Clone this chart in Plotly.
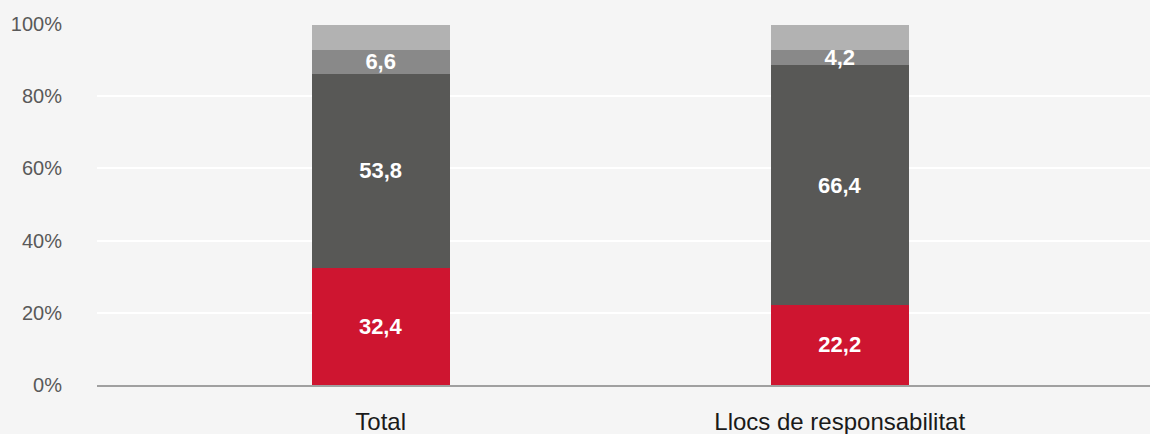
import plotly.graph_objects as go

categories = ["Total", "Llocs de responsabilitat"]

red_vals = [32.4, 22.2]
dark_vals = [53.8, 66.4]
mid_vals = [6.6, 4.2]
light_vals = [6.8, 6.8]

red_text = ["32,4", "22,2"]
dark_text = ["53,8", "66,4"]
mid_text = ["6,6", "4,2"]

y_ticks = [0, 20, 40, 60, 80, 100]
y_tick_text = ["0%", "20%", "40%", "60%", "80%", "100%"]

series = [
    (red_vals, red_text, "#ce1530"),
    (dark_vals, dark_text, "#585856"),
    (mid_vals, mid_text, "#898989"),
    (light_vals, None, "#b2b2b2"),
]

fig = go.Figure()
for vals, txt, col in series:
    fig.add_trace(go.Bar(
        x=categories, y=vals, text=txt,
        marker=dict(color=col, line=dict(width=0)),
        width=0.3,
        textposition="inside", insidetextanchor="middle",
        constraintext="none",
        textfont=dict(family="Liberation Sans, Arial", size=22, color="white", weight="bold"),
        hoverinfo="skip", showlegend=False,
    ))

fig.update_layout(
    barmode="stack",
    width=1150, height=434,
    margin=dict(l=97, r=0, t=24, b=49),
    paper_bgcolor="#f5f5f5",
    plot_bgcolor="#f5f5f5",
    font=dict(family="Liberation Sans, Arial", color="#595959"),
    xaxis=dict(
        range=[-0.618, 1.676],
        showgrid=False, zeroline=False,
        showline=True, linecolor="#a0a0a0", linewidth=2,
        ticks="", tickfont=dict(size=24, color="#1a1a1a"),
        ticklabelstandoff=14,
    ),
    yaxis=dict(
        range=[0, 100],
        tickvals=y_ticks, ticktext=y_tick_text,
        showgrid=True, gridcolor="white", gridwidth=2,
        zeroline=False, showline=False,
        tickfont=dict(size=20, color="#595959"),
        ticklabelstandoff=34,
    ),
)

# drop the browser's default body margin so the chart sits at 0,0
fig.write_html("out.html", config={"displayModeBar": False},
               post_script="document.body.style.margin='0';")
